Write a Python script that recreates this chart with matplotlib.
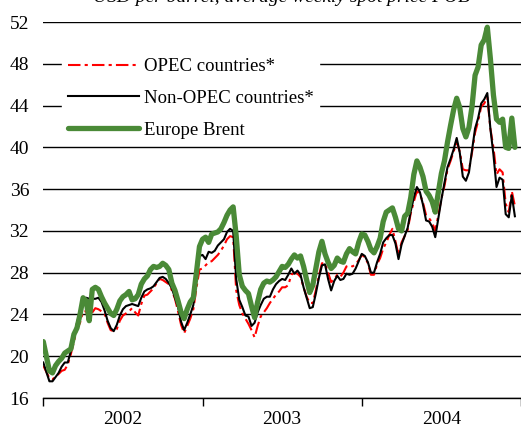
import matplotlib.pyplot as plt
import numpy as np

# средние недельные цены, USD за баррель (с января 2002 по декабрь 2004)
brent = [21.4, 20.0, 18.6, 18.4, 19.1, 19.5, 19.8, 20.3, 20.5, 20.7,
         22.1, 22.7, 24.0, 25.6, 25.3, 23.4, 26.4, 26.6, 26.4, 25.7,
         25.1, 24.6, 24.1, 23.9, 24.5, 25.3, 25.7, 25.9, 26.2, 25.4,
         25.5, 25.9, 26.9, 27.4, 27.7, 28.3, 28.6, 28.5, 28.6, 28.9,
         28.7, 28.3, 27.0, 26.3, 25.3, 24.2, 23.6, 24.5, 25.2, 25.6,
         28.0, 30.5, 31.2, 31.4, 30.9, 31.7, 31.8, 31.9, 32.2, 32.8,
         33.5, 34.0, 34.3, 31.5, 27.8, 26.7, 26.3, 26.0, 24.8, 23.7,
         25.2, 26.4, 27.0, 27.2, 27.1, 27.3, 27.6, 28.1, 28.6, 28.5,
         28.8, 29.3, 29.7, 29.4, 29.6, 28.6, 27.3, 26.1, 26.8, 28.4,
         30.0, 31.0, 29.8, 29.0, 28.4, 28.7, 29.4, 29.1, 29.0, 29.8,
         30.3, 30.0, 29.8, 30.9, 31.7, 31.6, 31.0, 30.2, 29.9, 30.5,
         31.3, 32.9, 33.8, 34.0, 34.2, 33.3, 32.2, 32.0, 33.4, 33.7,
         35.2, 37.4, 38.7, 38.1, 37.2, 35.8, 35.4, 34.8, 33.8, 35.7,
         37.5, 38.7, 40.5, 42.1, 43.6, 44.7, 43.8, 41.8, 41.0, 41.9,
         43.9, 46.9, 47.7, 49.8, 50.3, 51.5, 48.5, 45.0, 42.7, 42.4,
         42.7, 40.0, 39.9, 42.8, 40.0]

non_opec = [19.4, 18.5, 17.6, 17.6, 18.0, 18.4, 19.0, 19.4, 19.4, 20.5,
            21.9, 23.2, 24.3, 25.2, 25.6, 25.5, 25.5, 25.5, 25.6, 25.2,
            24.4, 23.4, 22.7, 22.4, 23.0, 23.9, 24.5, 24.8, 24.9, 25.0,
            24.9, 24.8, 25.6, 26.2, 26.4, 26.5, 26.7, 27.1, 27.5, 27.6,
            27.4, 27.0, 26.5, 25.6, 24.7, 23.3, 22.5, 23.2, 24.0, 24.9,
            27.5, 29.6, 29.7, 29.3, 30.0, 29.9, 30.1, 30.6, 30.9, 31.2,
            31.9, 32.2, 32.0, 27.4, 25.4, 24.7, 23.9, 23.8, 22.9, 23.2,
            24.2, 24.9, 25.5, 25.7, 25.7, 26.4, 26.9, 27.2, 27.4, 27.3,
            27.8, 28.4, 27.9, 28.2, 27.8, 26.6, 25.6, 24.6, 24.7, 26.0,
            27.5, 28.7, 28.8, 27.4, 26.3, 27.2, 27.7, 27.3, 27.4, 27.9,
            27.8, 27.9, 28.4, 29.1, 29.8, 29.6, 29.0, 28.0, 28.0, 29.0,
            29.8, 30.9, 31.3, 31.6, 31.6, 30.8, 29.3, 30.7, 31.5, 32.3,
            33.9, 35.2, 36.2, 35.7, 34.5, 33.0, 32.9, 32.4, 31.4, 33.2,
            35.0, 36.6, 38.1, 38.9, 39.8, 40.9, 39.5, 37.2, 36.8, 37.6,
            39.7, 41.8, 42.8, 44.2, 44.6, 45.2, 41.8, 39.3, 36.2, 37.1,
            36.9, 33.6, 33.3, 35.4, 33.4]

opec = [19.1, 18.5, 17.9, 17.8, 18.0, 18.3, 18.6, 18.7, 19.2, 20.2,
        21.4, 22.6, 23.2, 24.3, 24.3, 23.2, 24.2, 24.6, 24.5, 24.3,
        24.1, 23.2, 22.5, 22.4, 22.6, 23.4, 23.9, 24.1, 24.3, 24.6,
        24.2, 23.9, 25.0, 25.8, 25.9, 26.2, 26.5, 27.0, 27.4, 27.3,
        27.1, 26.9, 26.3, 25.5, 24.3, 23.0, 22.2, 22.9, 23.6, 24.5,
        26.5, 28.3, 28.4, 28.7, 29.0, 29.1, 29.4, 29.7, 30.1, 30.6,
        31.2, 31.5, 31.4, 26.3, 24.9, 24.1, 23.6, 23.1, 22.5, 21.8,
        22.9, 23.8, 24.2, 24.6, 25.1, 25.5, 25.9, 26.2, 26.6, 26.6,
        26.8, 27.8, 28.0, 27.9, 27.6, 26.6, 25.7, 25.1, 25.1, 26.3,
        27.7, 28.9, 28.9, 28.0, 27.1, 27.4, 27.8, 27.6, 28.0, 28.6,
        28.7, 28.6, 28.8, 29.2, 29.7, 29.5, 28.9, 27.8, 27.8, 28.8,
        29.4, 30.3, 30.9, 31.6, 32.2, 31.0, 29.7, 30.9, 31.5, 32.1,
        33.7, 34.8, 35.8, 35.5, 34.7, 33.5, 33.2, 32.8, 32.0, 33.5,
        35.1, 36.3, 37.9, 38.7, 39.6, 40.5, 39.6, 37.9, 37.8, 37.8,
        39.5, 41.4, 42.5, 43.9, 44.2, 44.8, 41.8, 40.0, 37.4, 37.9,
        37.6, 34.6, 33.8, 35.8, 34.4]

years = ['2002', '2003', '2004']
weeks = np.arange(len(brent))

plt.rcParams['font.family'] = ['Liberation Serif', 'DejaVu Serif']

fig = plt.figure(figsize=(5.21, 4.30), dpi=100)
ax = fig.add_axes([0.0825, 0.0744, 0.9175, 0.8744])

#строим линии
ax.plot(weeks, opec, color='#ff0000', lw=1.5, ls=(0, (6, 2, 1.5, 2)),
        label='OPEC countries*', zorder=3)
ax.plot(weeks, non_opec, color='black', lw=1.5,
        label='Non-OPEC countries*', zorder=4)
ax.plot(weeks, brent, color='#4a8a37', lw=3.8,
        label='Europe Brent', zorder=5, solid_capstyle='round')

#оси и сетка
ax.set_ylim(16, 52)
ax.set_yticks(np.arange(16, 53, 4))
ax.set_xlim(-0.1, 154.3)
ax.set_xticks([0, 52, 104, 156])
ax.set_xticklabels([])
ax.set_xticks([26, 78, 130], minor=True)
ax.set_xticklabels(years, minor=True)
ax.tick_params(axis='x', which='major', length=6, width=1, direction='out')
ax.tick_params(axis='x', which='minor', length=0, pad=9, labelsize=14)
ax.tick_params(axis='y', length=0, pad=10, labelsize=14)
ax.grid(axis='y', color='black', lw=1)
ax.set_axisbelow(True)
for s in ['left', 'right', 'top']:
    ax.spines[s].set_visible(False)
ax.spines['bottom'].set_linewidth(1)

leg = ax.legend(loc='upper left', bbox_to_anchor=(0.02, 0.944), frameon=True,
                fontsize=13.5, handlelength=3.8, handletextpad=0.27,
                labelspacing=0.78, borderpad=0.3, fancybox=False)
leg.get_frame().set_facecolor('white')
leg.get_frame().set_edgecolor('white')
leg.get_frame().set_alpha(1)
leg.set_zorder(6)

fig.text(0.54, 1.005, 'USD per barrel, average weekly spot price FOB',
         ha='center', va='center', style='italic', fontsize=14)

fig.savefig('out.png', dpi=100)
